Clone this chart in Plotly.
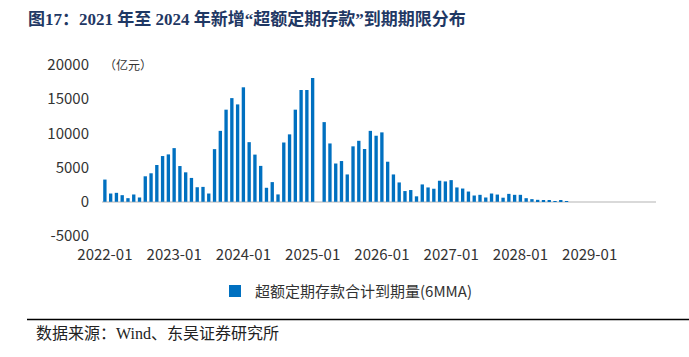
import plotly.graph_objects as go

# ---- data ----
months = [f"{y}-{m:02d}" for y in range(2022, 2030) for m in range(1, 13)]
values = [
    3250, 1210, 1310, 970, 530, 1070, 630, 3730, 4170, 5380, 6690, 6930,
    7850, 5230, 4310, 3490, 2130, 2180, 1210, 7700, 10370, 13470, 15160, 14240,
    16740, 8720, 6900, 5250, 2050, 2880, 1080, 8670, 9860, 13470, 16350, 16350,
    18100, 0, 11650, 8530, 5600, 5960, 4000, 8110, 8920, 7720, 10370, 9660,
    10150, 5860, 4000, 2830, 1570, 1720, 800, 2540, 2100, 1910,
    3080, 2980, 3170, 2100, 1940, 1500, 920, 1020, 630, 1210, 1060, 600,
    1160, 1020, 1020, 530, 390, 290, 150, 150, 80, 150, 60, 0,
    0, 0, 0, 0, 0, 0, 0, 0, 0, 0, 0, 0,
]
tick_labels = ["2022-01", "2023-01", "2024-01", "2025-01",
               "2026-01", "2027-01", "2028-01", "2029-01"]
y_ticks = [-5000, 0, 5000, 10000, 15000, 20000]
y_tick_text = ["-5000", "0", "5000", "10000", "15000", "20000"]
series_name = "超额定期存款合计到期量(6MMA)"
title_text = "图17：2021 年至 2024 年新增“超额定期存款”到期期限分布"
unit_text = "（亿元）"
source_text = "数据来源：Wind、东吴证券研究所"

# ---- layout geometry (pixels) ----
W, H = 689, 357
L, R, T, B = 102, 33, 64.5, 120.5
PW, PH = W - L - R, H - T - B


def px_x(x):
    return (x - L) / PW


def px_y(y):
    return (H - B - y) / PH


SANS = "Noto Sans CJK SC, Noto Sans, sans-serif"
SERIF = "Liberation Serif, DejaVu Serif, Noto Sans CJK SC, serif"

fig = go.Figure()
fig.add_trace(go.Bar(
    x=months, y=values, name=series_name,
    marker=dict(color="#0070C0", line=dict(width=0)),
    showlegend=True,
))

fig.update_layout(
    width=W, height=H,
    margin=dict(l=L, r=R, t=T, b=B, autoexpand=False),
    paper_bgcolor="white", plot_bgcolor="white",
    bargap=0.42,
    font=dict(family=SANS, size=15, color="#333333"),
    title=dict(
        text=title_text, xref="container", yref="container",
        x=28 / W, xanchor="left", y=1 - 19 / H, yanchor="middle",
        font=dict(family=SERIF, size=17, color="#1F3864", weight="bold"),
    ),
    xaxis=dict(
        type="category", categoryorder="array", categoryarray=months,
        range=[-0.5, len(months) - 0.5],
        tickmode="array", tickvals=tick_labels, ticktext=tick_labels,
        showgrid=False, showline=False, zeroline=False, ticks="",
        tickfont=dict(size=15, color="#333333"),
        ticklabelstandoff=8,
    ),
    yaxis=dict(
        range=[-5000, 20000], tickmode="array", tickvals=y_ticks,
        ticktext=y_tick_text,
        showgrid=False, showline=False, ticks="",
        zeroline=True, zerolinecolor="#D9D9D9", zerolinewidth=1.5,
        tickfont=dict(size=15, color="#333333"),
        ticklabelstandoff=12,
    ),
    legend=dict(
        orientation="h", x=px_x(346), xanchor="center",
        y=px_y(292), yanchor="middle",
        font=dict(size=15, color="#333333"),
        bgcolor="rgba(0,0,0,0)",
    ),
    annotations=[
        dict(text=unit_text, xref="paper", yref="paper",
             x=px_x(102), y=px_y(64), xanchor="left", yanchor="middle",
             showarrow=False, font=dict(size=12, color="#333333")),
        dict(text=source_text, xref="paper", yref="paper",
             x=px_x(34), y=px_y(335), xanchor="left", yanchor="middle",
             showarrow=False, font=dict(family=SERIF, size=16, color="#222222")),
    ],
    shapes=[
        dict(type="line", xref="paper", yref="paper",
             x0=px_x(27), x1=px_x(689), y0=px_y(320.5), y1=px_y(320.5),
             line=dict(color="#000000", width=1.5)),
    ],
)

fig.write_html("out.html",
               config={"displayModeBar": False},
               post_script="document.body.style.margin='0';"
                           "document.body.style.padding='0';")
